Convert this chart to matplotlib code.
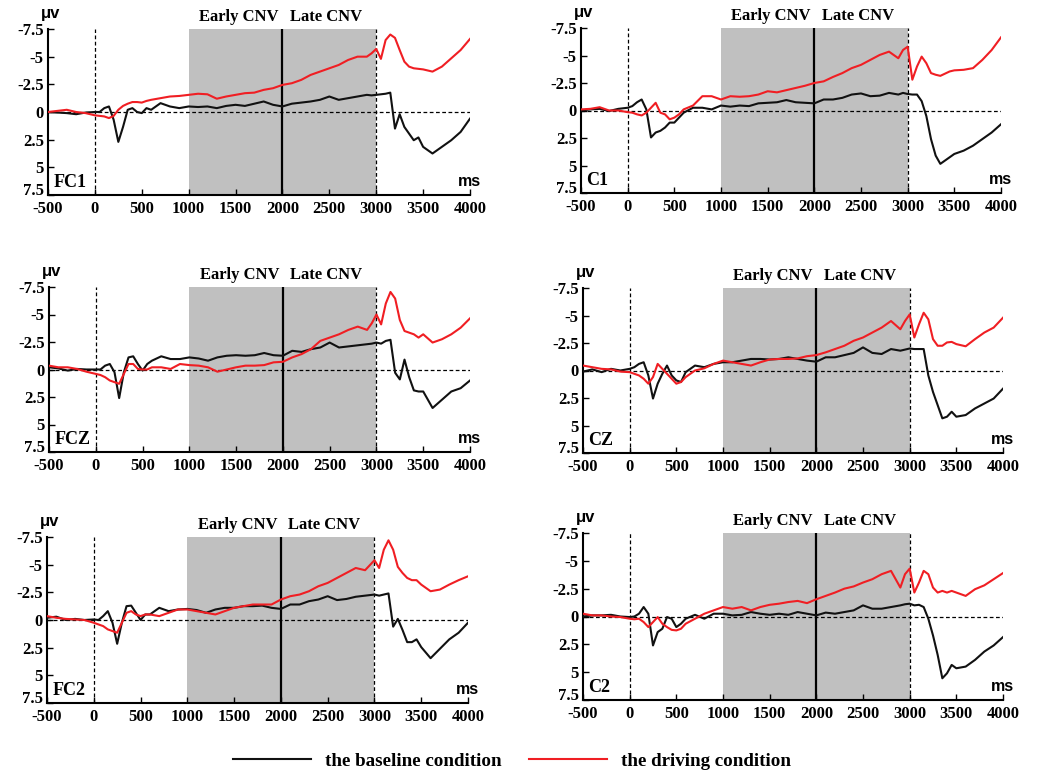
import matplotlib
matplotlib.use("Agg")
import matplotlib.pyplot as plt
from matplotlib.lines import Line2D

plt.rcParams["font.family"] = "Liberation Serif"
plt.rcParams["font.weight"] = "bold"
plt.rcParams["axes.unicode_minus"] = False

# time axis (ms), denser around the fast components
time_ms = [-500, -400, -300, -200, -100, 0,
           50, 100, 150, 200, 250, 300, 350, 400, 450, 500, 550, 600,
           700, 800, 900, 1000, 1100, 1200, 1300, 1400, 1500, 1600, 1700, 1800,
           1900, 2000, 2100, 2200, 2300, 2400, 2500, 2600, 2700, 2800, 2900,
           2950, 3000, 3050, 3100, 3150, 3200, 3250, 3300, 3350, 3400, 3450, 3500,
           3600, 3700, 3800, 3900, 4000]

# amplitudes in microvolts (negative up)
fc1_baseline = [0.0, 0.05, 0.1, 0.2, 0.05, 0.0,
                0.0, -0.35, -0.5, 0.7, 2.7, 1.35, -0.2, -0.35, 0.0, 0.1, -0.35, -0.2,
                -0.8, -0.5, -0.35, -0.5, -0.45, -0.5, -0.35, -0.55, -0.65, -0.55, -0.75, -0.95,
                -0.65, -0.5, -0.75, -0.85, -0.95, -1.1, -1.4, -1.1, -1.25, -1.4, -1.55,
                -1.5, -1.55, -1.6, -1.65, -1.75, 1.5, 0.2, 1.35, 1.95, 2.55, 2.3, 3.15,
                3.75, 3.15, 2.55, 1.8, 0.6]
fc1_driving = [0.0, -0.1, -0.2, 0.0, 0.1, 0.3,
               0.35, 0.4, 0.55, 0.35, -0.2, -0.55, -0.75, -0.9, -0.9, -0.85, -1.0, -1.1,
               -1.25, -1.4, -1.45, -1.55, -1.65, -1.6, -1.2, -1.4, -1.55, -1.7, -1.75, -2.0,
               -2.15, -2.45, -2.6, -2.9, -3.35, -3.65, -3.95, -4.25, -4.7, -5.0, -5.0,
               -5.3, -5.7, -4.8, -6.5, -7.0, -6.7, -5.6, -4.55, -4.1, -3.95, -3.9, -3.85,
               -3.65, -4.1, -4.85, -5.6, -6.6]

c1_baseline = [0.0, -0.1, -0.15, 0.05, -0.15, -0.25,
               -0.4, -0.75, -1.0, -0.1, 2.45, 2.0, 1.85, 1.55, 1.1, 1.1, 0.65, 0.2,
               -0.25, -0.25, -0.1, -0.45, -0.35, -0.45, -0.4, -0.65, -0.7, -0.75, -0.95, -0.75,
               -0.7, -0.65, -1.0, -1.0, -1.15, -1.45, -1.55, -1.3, -1.35, -1.6, -1.45,
               -1.6, -1.5, -1.45, -1.45, -0.85, 0.5, 2.6, 4.1, 4.85, 4.55, 4.25, 3.95,
               3.65, 3.2, 2.6, 2.0, 1.25]
c1_driving = [-0.1, -0.15, -0.3, 0.0, 0.0, 0.15,
              0.2, 0.35, 0.45, 0.2, -0.25, -0.7, 0.2, 0.35, 0.8, 0.65, 0.35, -0.1,
              -0.45, -1.3, -1.3, -1.0, -1.3, -1.25, -1.3, -1.45, -1.75, -1.65, -1.85, -2.05,
              -2.25, -2.5, -2.65, -3.05, -3.4, -3.85, -4.15, -4.6, -5.05, -5.35, -4.75,
              -5.5, -5.8, -2.8, -4.0, -4.9, -4.3, -3.4, -3.25, -3.15, -3.35, -3.55, -3.65,
              -3.7, -3.85, -4.6, -5.5, -6.65]

fcz_baseline = [-0.2, -0.1, 0.1, -0.05, 0.0, 0.0,
                0.0, -0.35, -0.5, 0.25, 2.6, 0.25, -1.1, -1.2, -0.5, 0.1, -0.5, -0.8,
                -1.2, -0.95, -0.95, -1.1, -1.0, -0.8, -1.1, -1.25, -1.3, -1.25, -1.3, -1.5,
                -1.3, -1.25, -1.7, -1.6, -1.85, -2.0, -2.45, -2.0, -2.1, -2.2, -2.3,
                -2.35, -2.45, -2.35, -2.6, -2.7, 0.3, 0.9, -0.9, 0.7, 1.9, 2.0, 2.0,
                3.5, 2.75, 2.0, 1.7, 1.0]
fcz_driving = [-0.35, -0.2, -0.2, -0.05, 0.2, 0.4,
               0.5, 0.7, 1.0, 1.15, 1.3, 0.4, -0.5, -0.5, -0.05, 0.0, 0.0, -0.2,
               -0.2, -0.05, -0.5, -0.4, -0.35, -0.2, 0.2, 0.0, -0.2, -0.35, -0.35, -0.4,
               -0.65, -0.7, -1.1, -1.4, -1.85, -2.6, -2.9, -3.2, -3.6, -3.9, -3.6,
               -4.2, -5.0, -4.1, -6.0, -7.05, -6.45, -4.5, -3.5, -3.35, -3.2, -2.9, -3.2,
               -2.45, -2.75, -3.2, -3.8, -4.65]

cz_baseline = [0.1, -0.1, 0.15, -0.15, 0.0, -0.15,
               -0.3, -0.6, -0.75, 0.45, 2.55, 1.2, 0.3, -0.45, 0.45, 0.9, 1.05, 0.15,
               -0.45, -0.3, -0.6, -0.75, -0.75, -0.9, -1.05, -1.05, -1.0, -1.05, -1.2, -1.05,
               -0.9, -0.8, -1.2, -1.2, -1.4, -1.6, -2.1, -1.6, -1.5, -1.95, -1.8,
               -1.9, -2.0, -1.95, -1.95, -1.95, 0.45, 1.95, 3.15, 4.35, 4.2, 3.75, 4.2,
               4.05, 3.45, 3.0, 2.55, 1.65]
cz_driving = [-0.45, -0.3, -0.15, -0.1, 0.1, 0.15,
              0.3, 0.45, 0.75, 1.2, 0.6, -0.6, -0.15, 0.3, 0.75, 1.2, 1.05, 0.6,
              0.0, -0.2, -0.6, -0.9, -0.75, -0.6, -0.45, -0.75, -1.0, -1.05, -1.05, -1.1,
              -1.3, -1.4, -1.65, -1.95, -2.25, -2.7, -3.0, -3.45, -3.9, -4.5, -3.75,
              -4.5, -5.1, -3.0, -4.2, -5.25, -4.65, -2.85, -2.25, -2.25, -2.55, -2.6, -2.4,
              -2.2, -2.85, -3.45, -3.9, -4.8]

fc2_baseline = [-0.2, -0.3, 0.0, -0.1, 0.0, -0.05,
                0.0, -0.35, -0.8, 0.25, 2.15, 0.25, -1.25, -1.3, -0.65, 0.0, -0.5, -0.5,
                -1.1, -0.8, -0.95, -1.0, -0.9, -0.65, -0.95, -1.1, -1.1, -1.25, -1.25, -1.3,
                -1.1, -1.0, -1.4, -1.4, -1.7, -1.85, -2.15, -1.8, -1.9, -2.1, -2.2,
                -2.25, -2.3, -2.2, -2.3, -2.4, 0.6, -0.1, 0.9, 2.0, 2.0, 1.75, 2.45,
                3.45, 2.6, 1.75, 1.15, 0.25]
fc2_driving = [-0.35, -0.2, -0.1, -0.05, 0.0, 0.25,
               0.4, 0.55, 0.85, 1.0, 1.15, 0.25, -0.65, -0.8, -0.5, -0.35, -0.5, -0.5,
               -0.35, -0.65, -0.95, -0.95, -0.8, -0.65, -0.5, -0.8, -1.1, -1.25, -1.4, -1.4,
               -1.4, -1.85, -2.15, -2.3, -2.6, -3.05, -3.35, -3.8, -4.25, -4.7, -4.5,
               -4.95, -5.4, -4.7, -6.35, -7.2, -6.35, -4.8, -4.25, -3.8, -3.6, -3.6, -3.2,
               -2.6, -2.75, -3.2, -3.6, -3.95]

c2_baseline = [0.0, -0.1, -0.1, -0.15, 0.0, 0.05,
               0.0, -0.25, -0.85, -0.25, 2.6, 1.4, 1.1, 0.05, 0.2, 0.95, 0.65, 0.2,
               -0.15, 0.2, -0.25, -0.25, -0.1, -0.15, -0.4, -0.25, -0.15, -0.25, -0.15, -0.4,
               -0.25, -0.1, -0.35, -0.25, -0.4, -0.55, -1.0, -0.7, -0.7, -0.85, -1.0,
               -1.1, -1.15, -1.0, -1.05, -0.85, 0.2, 1.7, 3.45, 5.55, 5.1, 4.35, 4.65,
               4.5, 3.9, 3.15, 2.6, 1.85]
c2_driving = [-0.25, -0.1, -0.1, 0.0, 0.05, 0.2,
              0.25, 0.2, 0.5, 0.95, 0.5, 0.05, 0.65, 0.95, 1.2, 1.25, 1.1, 0.65,
              0.2, -0.25, -0.55, -0.85, -0.7, -0.85, -0.55, -0.85, -1.05, -1.15, -1.3, -1.4,
              -1.2, -1.55, -1.85, -2.15, -2.5, -2.7, -3.05, -3.35, -3.8, -4.1, -2.6,
              -3.8, -4.3, -2.15, -3.05, -4.1, -3.8, -2.6, -2.15, -2.3, -2.15, -2.3, -2.15,
              -1.85, -2.45, -2.8, -3.35, -3.9]

x_ticks = [-500, 0, 500, 1000, 1500, 2000, 2500, 3000, 3500, 4000]
y_ticks = [-7.5, -5, -2.5, 0, 2.5, 5, 7.5]
y_tick_labels = ["-7.5", "-5", "-2.5", "0", "2.5", "5", "7.5"]

W, H = 1037.0, 771.0


def box(left, top, right, bottom):
    """Axes rectangle from pixel edges."""
    return [left / W, 1 - bottom / H, (right - left) / W, (bottom - top) / H]


panels = [
    ("FC1", fc1_baseline, fc1_driving, box(48, 29, 470, 195)),
    ("C1", c1_baseline, c1_driving, box(581, 28, 1001, 193)),
    ("FCZ", fcz_baseline, fcz_driving, box(49, 287, 470, 452)),
    ("CZ", cz_baseline, cz_driving, box(583, 288, 1003, 453)),
    ("FC2", fc2_baseline, fc2_driving, box(47, 537, 468, 703)),
    ("C2", c2_baseline, c2_driving, box(583, 533, 1003, 700)),
]

BLACK = "#111111"
RED = "#f01e23"
dash = (0, (3, 2))

fig = plt.figure(figsize=(10.37, 7.71), dpi=100)

for name, baseline, driving, rect in panels:
    ax = fig.add_axes(rect)
    ax.axvspan(1000, 3000, color="#c0c0c0", lw=0, zorder=0)
    ax.axhline(0, color="k", lw=0.9, ls=dash, zorder=1)
    ax.axvline(0, color="k", lw=0.9, ls=dash, zorder=1)
    ax.axvline(3000, color="k", lw=0.9, ls=dash, zorder=1)
    ax.axvline(2000, color="k", lw=1.6, zorder=1)

    ax.plot(time_ms, baseline, color=BLACK, lw=1.5, zorder=3)
    ax.plot(time_ms, driving, color=RED, lw=1.5, zorder=3)

    ax.set_xlim(-500, 4000)
    ax.set_ylim(7.5, -7.5)
    ax.spines["top"].set_visible(False)
    ax.spines["right"].set_visible(False)
    for s in ("left", "bottom"):
        ax.spines[s].set_linewidth(1.5)

    ax.set_xticks(x_ticks)
    ax.set_yticks(y_ticks)
    ax.set_yticklabels(y_tick_labels)
    ax.tick_params(axis="both", direction="in", labelsize=12, length=4, width=1)
    ax.tick_params(axis="x", pad=4)
    ax.tick_params(axis="y", pad=3)
    for lbl in ax.get_xticklabels() + ax.get_yticklabels():
        lbl.set_fontweight("bold")
    # the bottom label sits a little above its tick in the original
    ax.get_yticklabels()[-1].set_verticalalignment("baseline")

    ax.text(1960, -8.6, "Early CNV", ha="right", va="center", fontsize=12)
    ax.text(2080, -8.6, "Late CNV", ha="left", va="center", fontsize=12)
    ax.text(-470, -8.9, "μv", ha="center", va="center", fontsize=12,
            family="Liberation Sans")
    ax.text(3990, 6.3, "ms", ha="center", va="center", fontsize=11.5,
            family="Liberation Sans")
    ax.text(-440, 6.4, name, ha="left", va="center", fontsize=13)

handles = [Line2D([], [], color=BLACK, lw=1.5), Line2D([], [], color=RED, lw=1.5)]
fig.legend(handles, ["the baseline condition", "the driving condition"],
           loc="center", bbox_to_anchor=(512 / W, 1 - 761 / H), ncol=2,
           frameon=False, handlelength=4.1, handletextpad=0.75, columnspacing=1.4,
           prop=dict(family="Liberation Serif", weight="bold", size=13.7))

fig.savefig("out.png", dpi=100)
